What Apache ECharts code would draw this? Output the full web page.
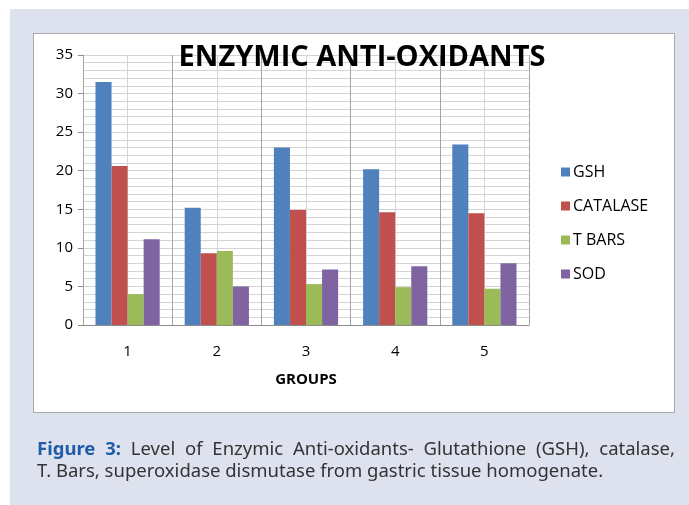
<!DOCTYPE html>
<html>
<head>
<meta charset="utf-8">
<script src="https://cdn.jsdelivr.net/npm/echarts@6/dist/echarts.min.js"></script>
<style>
  body { margin: 0; background: #fff; }
  #panel { position: absolute; left: 10px; top: 9px; width: 679px; height: 496px; background: #dee2ef; }
  #box { position: absolute; left: 33px; top: 33px; width: 640px; height: 378px; background: #fff; border: 1px solid #a9a9a9; }
  #chart { position: absolute; left: 0; top: 0; width: 689px; height: 505px; }
</style>
</head>
<body>
<div id="panel"></div>
<div id="box"></div>
<div id="chart"></div>
<script>
// groups on the x axis
const groups = ['1', '2', '3', '4', '5']
// values
const gsh = [31.5, 15.2, 23.0, 20.2, 23.4]
const catalase = [20.6, 9.3, 14.9, 14.6, 14.5]
const tbars = [4.0, 9.6, 5.3, 4.9, 4.7]
const sod = [11.1, 5.0, 7.2, 7.6, 8.0]
const names = ['GSH', 'CATALASE', 'T BARS', 'SOD']
const colors = ['#4f81bd', '#c0504d', '#9bbb59', '#8064a2']
const yMin = 0, yMax = 35, yStep = 5

const font = 'Open Sans'
const capFont = 'Noto Sans'
const capSize = 18.5
const capLine1 = ['Figure', '3:', 'Level', 'of', 'Enzymic', 'Anti-oxidants-', 'Glutathione', '(GSH),', 'catalase,']
const capLine2 = 'T. Bars, superoxidase dismutase from gastric tissue homogenate.'

// first caption line is justified between x=37 and x=675
function justified(words, x0, x1, y) {
  let ctx = document.createElement('canvas').getContext('2d')
  let fonts = words.map(function (w, i) {
    return (i < 2 ? 'bold ' : '') + capSize + 'px "' + capFont + '"'
  })
  let widths = words.map(function (w, i) {
    ctx.font = fonts[i]
    return ctx.measureText(w).width
  })
  let total = widths.reduce(function (a, b) { return a + b }, 0)
  let gap = (x1 - x0 - total) / (words.length - 1)
  let x = x0
  return words.map(function (w, i) {
    let el = {
      type: 'text', x: x, y: y,
      style: {
        text: w, font: fonts[i], verticalAlign: 'middle',
        fill: i < 2 ? '#1f5da8' : '#333'
      }
    }
    x += widths[i] + gap
    return el
  })
}

let chart = echarts.init(document.getElementById('chart'))

let option = {
  backgroundColor: 'transparent',
  animation: false,
  textStyle: { fontFamily: font },
  grid: { left: 83, top: 55, right: 160, bottom: 180 },
  legend: {
    orient: 'vertical',
    left: 561, top: 164,
    padding: 0,
    icon: 'rect',
    itemWidth: 9, itemHeight: 9,
    itemGap: 18,
    data: names,
    textStyle: { fontSize: 16, color: '#000', fontFamily: font, padding: [0, 0, 0, -2] }
  },
  xAxis: [
    {
      type: 'category',
      data: groups,
      z: 3,
      axisLine: { lineStyle: { color: '#8c8c8c' } },
      axisTick: { length: 6, lineStyle: { color: '#8c8c8c' } },
      axisLabel: { margin: 19, fontSize: 15, color: '#000' },
      splitLine: { show: true, lineStyle: { color: '#a6a6a6' } },
      name: 'GROUPS',
      nameLocation: 'middle',
      nameGap: 47,
      nameTextStyle: { fontWeight: 'bold', fontSize: 15, color: '#000' }
    },
    {
      // half-category vertical lines
      type: 'value',
      min: 0, max: 10, interval: 1,
      position: 'bottom',
      z: 1,
      axisLine: { show: false },
      axisTick: { show: false },
      axisLabel: { show: false },
      splitLine: { show: true, lineStyle: { color: '#d4d4d4' } }
    }
  ],
  yAxis: {
    type: 'value',
    min: yMin, max: yMax, interval: yStep,
    axisLine: { show: true, lineStyle: { color: '#8c8c8c' } },
    axisTick: { show: true, length: 5, lineStyle: { color: '#8c8c8c' } },
    axisLabel: { margin: 10, fontSize: 15, color: '#000' },
    splitLine: { lineStyle: { color: '#d4d4d4' } },
    minorTick: { show: false, splitNumber: 5 },
    minorSplitLine: { show: true, lineStyle: { color: '#d4d4d4' } }
  },
  series: [gsh, catalase, tbars, sod].map(function (d, i) {
    return {
      name: names[i],
      type: 'bar',
      data: d,
      barGap: '0%',
      barCategoryGap: '28%',
      itemStyle: { color: colors[i] }
    }
  }),
  graphic: [
    {
      type: 'text',
      x: 362, y: 58,
      z: 10,
      style: {
        text: 'ENZYMIC ANTI-OXIDANTS',
        align: 'center', verticalAlign: 'middle',
        font: 'bold 29px "Open Sans"',
        fill: '#000'
      }
    },
    {
      type: 'text',
      x: 37, y: 472,
      style: {
        text: capLine2,
        font: capSize + 'px "' + capFont + '"',
        verticalAlign: 'middle',
        fill: '#333'
      }
    }
  ].concat(justified(capLine1, 37, 675, 450))
}
chart.setOption(option)
</script>
</body>
</html>
